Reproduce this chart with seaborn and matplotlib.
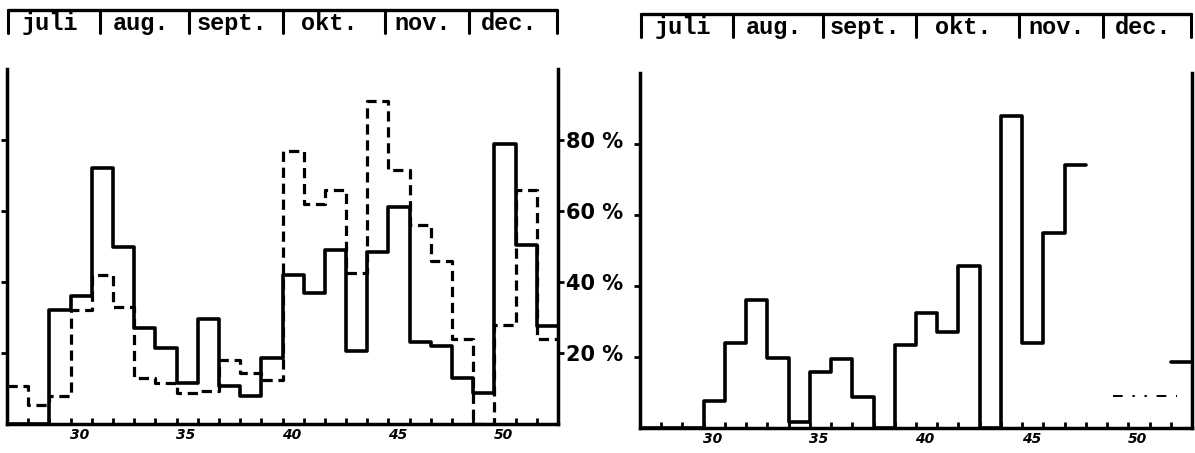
import numpy as np
import pandas as pd
import matplotlib
matplotlib.use("Agg")
import matplotlib.pyplot as plt
import matplotlib.transforms as mtransforms
import seaborn as sns

# ---------------- data ----------------
weeks = list(range(27, 53))
left_solid = [0, 0, 32, 36, 72, 50, 27, 21.5, 11.5, 29.5, 10.7, 8, 18.7,
              42, 37, 49, 20.5, 48.5, 61, 23, 22, 13, 8.6, 79, 50.5, 27.7]
left_dashed = [10.8, 5.4, 8, 32, 42, 33, 13, 11.6, 8.8, 9.3, 18, 14.5, 12.5,
               77, 62, 66, 42.5, 91, 71.5, 56, 46, 24, 0, 28, 66, 24]
right_solid = [0, 0, 0, 7.5, 24, 36, 19.7, 1.8, 15.8, 19.4, 8.7, 0, 23.4,
               32.4, 27, 45.6, 0, 88, 24, 55, 74, np.nan, np.nan, np.nan, np.nan, 18.6]
right_dotted_x = [49.3, 52.3]
right_dotted_y = [9, 9]

months = ["juli", "aug.", "sept.", "okt.", "nov.", "dec."]
month_edges = [27.05, 31.4, 35.6, 40.0, 44.85, 48.8, 52.95]
week_ticks = list(range(28, 53))
week_labels = [30, 35, 40, 45, 50]
pct_ticks = [20, 40, 60, 80]
pct_labels = ["20 %", "40 %", "60 %", "80 %"]


def step_frame(values):
    rows = []
    seg = 0
    prev_nan = True
    for i, (w, v) in enumerate(zip(weeks, values)):
        if np.isnan(v):
            prev_nan = True
            continue
        if prev_nan:
            seg += 1
        prev_nan = False
        rows.append((w, v, seg))
        if i + 1 >= len(values) or np.isnan(values[i + 1]):
            rows.append((w + 1, v, seg))
    return pd.DataFrame(rows, columns=["week", "value", "seg"])


sns.set_theme(style="white")
plt.rcParams["font.family"] = ["DejaVu Sans"]
plt.rcParams.update({"text.color": "black", "axes.labelcolor": "black",
                     "xtick.color": "black", "ytick.color": "black"})

fig = plt.figure(figsize=(11.95, 4.53), dpi=100)
axL = fig.add_axes([7 / 1195, 29 / 453, 551 / 1195, 355 / 453])
axR = fig.add_axes([640 / 1195, 25 / 453, 552 / 1195, 355 / 453])

LW = 2.6
sns.lineplot(data=step_frame(left_solid), x="week", y="value", units="seg",
             estimator=None, drawstyle="steps-post", color="black", lw=LW,
             ax=axL, legend=False)
sns.lineplot(data=step_frame(left_dashed), x="week", y="value", units="seg",
             estimator=None, drawstyle="steps-post", color="black", lw=LW - 0.3,
             linestyle=(0, (3.2, 1.8)), ax=axL, legend=False)
sns.lineplot(data=step_frame(right_solid), x="week", y="value", units="seg",
             estimator=None, drawstyle="steps-post", color="black", lw=LW,
             ax=axR, legend=False)
sns.lineplot(x=right_dotted_x, y=right_dotted_y, color="black", lw=1.4,
             linestyle=(0, (5, 5, 1.2, 5, 1.2, 5)), ax=axR, legend=False)

for ax in (axL, axR):
    ax.set_xlim(27, 53)
    ax.set_ylim(0, 100)
    ax.set_xlabel("")
    ax.set_ylabel("")
    ax.set_facecolor("white")
    ax.grid(False)
    ax.spines["top"].set_visible(False)
    for s in ("left", "right", "bottom"):
        ax.spines[s].set_visible(True)
        ax.spines[s].set_linewidth(2.5)
        ax.spines[s].set_color("black")
    ax.set_xticks(week_ticks)
    ax.set_xticklabels([str(w) if w in week_labels else "" for w in week_ticks],
                       fontsize=10, fontstyle="italic", fontweight="bold",
                       color="black")
    ax.tick_params(axis="x", direction="in", length=4, width=2, color="black",
                   pad=3, bottom=True)
    offset = mtransforms.ScaledTranslation(9 / 100, 0, fig.dpi_scale_trans)
    for lab in ax.get_xticklabels():
        lab.set_transform(lab.get_transform() + offset)
    ax.set_yticks(pct_ticks)

    # month header
    trans = mtransforms.blended_transform_factory(ax.transData, ax.transAxes)
    ax.plot([month_edges[0], month_edges[-1]], [1.167, 1.167], transform=trans,
            clip_on=False, color="black", lw=2.4)
    for e in month_edges:
        ax.plot([e, e], [1.10, 1.167], transform=trans, clip_on=False,
                color="black", lw=2.2)
    for name, a, b in zip(months, month_edges[:-1], month_edges[1:]):
        ax.text((a + b) / 2 - 0.2, 1.128, name, transform=trans, ha="center",
                va="center", family="Liberation Mono", fontweight="bold",
                fontsize=17, color="black")

axL.set_yticklabels(pct_labels, fontsize=15, fontweight="bold", color="black")
axL.tick_params(axis="y", left=True, right=True, labelleft=False,
                labelright=True, direction="out", length=4, width=2,
                color="black", pad=2)
axR.tick_params(axis="y", left=True, right=False, labelleft=False,
                labelright=False, direction="out", length=4, width=2,
                color="black")

fig.savefig("out.png", dpi=100, facecolor="white")
